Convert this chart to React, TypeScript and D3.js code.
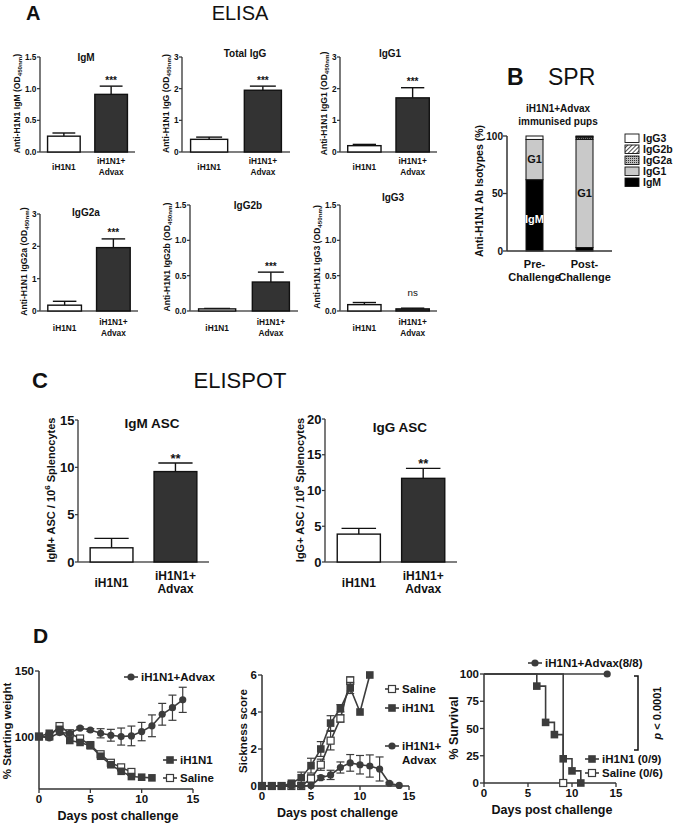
import React from 'react';
import * as d3 from 'd3';

// ---- data ----
const groups = ['iH1N1', 'iH1N1+Advax'];

// A: ELISA
const elisaTitles = ['IgM', 'Total IgG', 'IgG1', 'IgG2a', 'IgG2b', 'IgG3'];
const elisaIsotypes = ['IgM', 'IgG', 'IgG1', 'IgG2a', 'IgG2b', 'IgG3'];
const elisaMax = [1.5, 3, 3, 3, 1.5, 1.5];
const elisaTicks = [[0, 0.5, 1, 1.5], [0, 1, 2, 3], [0, 1, 2, 3], [0, 1, 2, 3], [0, 0.5, 1, 1.5], [0, 0.5, 1, 1.5]];
const elisaMean = [[0.25, 0.91], [0.4, 1.95], [0.2, 1.71], [0.18, 1.96], [0.03, 0.41], [0.09, 0.03]];
const elisaSem = [[0.05, 0.13], [0.07, 0.13], [0.04, 0.32], [0.12, 0.27], [0.006, 0.14], [0.03, 0.01]];
const elisaSig = ['***', '***', '***', '***', '***', 'ns'];

// B: SPR isotype share (%)
const isotypes = ['IgM', 'IgG1', 'IgG2a', 'IgG2b', 'IgG3'];
const sprGroups = ['Pre-Challenge', 'Post-Challenge'];
const sprPre = [62, 35, 0, 0, 3];
const sprPost = [3, 94, 1.5, 1, 0.5];

// C: ELISPOT
const ascTitles = ['IgM ASC', 'IgG ASC'];
const ascLabels = ['IgM+ ASC / 10', 'IgG+ ASC / 10'];
const ascMax = [15, 20];
const ascTicks = [[0, 5, 10, 15], [0, 5, 10, 15, 20]];
const ascMean = [[1.5, 9.55], [3.9, 11.7]];
const ascSem = [[1.0, 0.9], [0.8, 1.4]];
const ascSig = ['**', '**'];

// D: challenge
const dayTicks = [0, 5, 10, 15];
const advaxWeight = [100, 99, 103, 102.5, 106.5, 105, 102.5, 101, 100, 100.5, 103.8, 108.2, 117, 122, 128];
const advaxWeightErr = [0, 0.8, 1.5, 1, 0.8, 1, 3.5, 4.5, 6.5, 7.5, 7, 8.3, 8.3, 9.6, 9.6];
const ih1n1Weight = [100, 102.5, 105.5, 97, 95.5, 93, 85, 78.5, 73.5, 69.5, 69, 68.5];
const salineWeight = [100, 100, 108, 102.5, 98.5, 93.5, 86.5, 80, 76.5, 73];

const salineSick = [0, 0, 0, 0, 0, 0.4, 1.15, 2.45, 3.65, 5.7];
const salineSickErr = [0, 0, 0, 0, 0, 0.2, 0.3, 0.5, 0.2, 0.2];
const ih1n1Sick = [0, 0, 0, 0.15, 0.45, 1.1, 2.0, 3.4, 4.2, 5.3, 4.0, 6.0];
const ih1n1SickErr = [0, 0, 0, 0.1, 0.3, 0.4, 0.4, 0.4, 0.2, 0.3, 0, 0];
const advaxSick = [0, 0, 0, 0, 0, 0.03, 0.45, 0.6, 1.0, 1.25, 1.15, 1.08, 0.92, 0.15, 0.03];
const advaxSickErr = [0, 0, 0, 0, 0, 0, 0.1, 0.25, 0.3, 0.45, 0.5, 0.6, 0.65, 0.05, 0];

const advaxSurvDays = [0, 14];
const advaxSurv = [100, 100];
const ih1n1SurvDays = [0, 6, 7, 8, 9, 10, 11];
const ih1n1Surv = [100, 88.9, 55.6, 44.4, 22.2, 11.1, 0];
const salineSurvDays = [0, 9];
const salineSurv = [100, 0];

// ---- layout ----
const FONT = 'Liberation Sans, Arial, Helvetica, sans-serif';
const INK = '#333';
const LINE = '#3c3c3c';

const elisaBox = [
  { x0: 40, x1: 135, top: 57, base: 152, labelX: 20, titleX: 86, titleY: 61 },
  { x0: 182, x1: 290, top: 57, base: 152, labelX: 169, titleX: 245, titleY: 57 },
  { x0: 340, x1: 437, top: 57, base: 152, labelX: 327, titleX: 390, titleY: 57 },
  { x0: 40, x1: 138, top: 214, base: 311, labelX: 27, titleX: 86, titleY: 216 },
  { x0: 190, x1: 298, top: 205, base: 311, labelX: 170, titleX: 248, titleY: 209 },
  { x0: 340, x1: 437, top: 205, base: 311, labelX: 320, titleX: 393, titleY: 201 },
];
const ascBox = [
  { x0: 78, x1: 209, top: 420, base: 562, labelX: 55, titleX: 152 },
  { x0: 325, x1: 457, top: 419, base: 562, labelX: 304, titleX: 400 },
];

const fmt1 = d3.format('.1f');

function GroupLabels({ x, y, size, gap }: any) {
  return (
    <g fontFamily={FONT} fontWeight="bold" fontSize={size} textAnchor="middle" fill="#111">
      <text x={x(groups[0])! + x.bandwidth() / 2} y={y + gap / 2}>iH1N1</text>
      <text x={x(groups[1])! + x.bandwidth() / 2} y={y}>iH1N1+</text>
      <text x={x(groups[1])! + x.bandwidth() / 2} y={y + gap}>Advax</text>
    </g>
  );
}

function BarPanel({ box, max, ticks, mean, sem, sig, tickFmt, fs, inner, outer, capFrac, sigGap, xlabY, xlabGap }: any) {
  const x = d3.scaleBand<string>().domain(groups).range([box.x0, box.x1]).paddingInner(inner).paddingOuter(outer);
  const y = d3.scaleLinear().domain([0, max]).range([box.base, box.top]);
  const bw = x.bandwidth();
  return (
    <g>
      <line x1={box.x0} x2={box.x0} y1={box.base} y2={box.top} stroke={INK} strokeWidth={1.3} />
      <line x1={box.x0} x2={box.x1} y1={box.base} y2={box.base} stroke="#555" strokeWidth={1.3} />
      {ticks.map((t: number) => (
        <g key={t}>
          <line x1={box.x0 - 3} x2={box.x0} y1={y(t)} y2={y(t)} stroke={INK} strokeWidth={1.2} />
          <text x={box.x0 - 3.5} y={y(t)} dy="0.35em" textAnchor="end" fontFamily={FONT} fontWeight="bold" fontSize={fs.tick} fill="#111">
            {tickFmt(t)}
          </text>
        </g>
      ))}
      {groups.map((g, i) => {
        const cx = x(g)! + bw / 2;
        const top = y(mean[i] + sem[i]);
        return (
          <g key={g}>
            <line x1={cx} x2={cx} y1={y(mean[i])} y2={top} stroke="#111" strokeWidth={1.4} />
            <line x1={cx - bw * capFrac} x2={cx + bw * capFrac} y1={top} y2={top} stroke="#111" strokeWidth={1.4} />
            <rect x={x(g)} y={y(mean[i])} width={bw} height={box.base - y(mean[i])}
              fill={i === 0 ? '#fff' : '#333'} stroke="#111" strokeWidth={1.4} />
            {i === 1 && (
              <text x={cx} y={sig === 'ns' ? top - 12 : top - sigGap} textAnchor="middle" fontFamily={FONT}
                fontWeight={sig === 'ns' ? 'normal' : 'bold'}
                fontSize={sig === 'ns' ? fs.tick + 1.5 : fs.sig} fill="#111">{sig}</text>
            )}
          </g>
        );
      })}
      <GroupLabels x={x} y={xlabY} size={fs.xlab} gap={xlabGap} />
    </g>
  );
}

function DayAxis({ x, y0, yTicks, yScale }: any) {
  const [r0, r1] = x.range();
  const [b, t] = yScale.range();
  return (
    <g fontFamily={FONT} fontWeight="bold" fill="#111">
      <line x1={r0} x2={r0} y1={b} y2={t} stroke={INK} strokeWidth={1.5} />
      <line x1={r0} x2={r1} y1={y0} y2={y0} stroke={INK} strokeWidth={1.5} />
      {dayTicks.map((d) => (
        <g key={d}>
          <line x1={x(d)} x2={x(d)} y1={y0} y2={y0 + 4} stroke={INK} strokeWidth={1.3} />
          <text x={x(d)} y={y0 + 14} textAnchor="middle" fontSize={11.5}>{d}</text>
        </g>
      ))}
      {yTicks.map((v: number) => (
        <g key={v}>
          <line x1={r0 - 4} x2={r0} y1={yScale(v)} y2={yScale(v)} stroke={INK} strokeWidth={1.3} />
          <text x={r0 - 5} y={yScale(v)} dy="0.35em" textAnchor="end" fontSize={11.5}>{v}</text>
        </g>
      ))}
      <text x={(r0 + r1) / 2 + 2} y={y0 + 31} textAnchor="middle" fontSize={12.5}>Days post challenge</text>
    </g>
  );
}

function Marker({ kind, cx, cy }: any) {
  if (kind === 'circle') return <circle cx={cx} cy={cy} r={3.6} fill={LINE} />;
  if (kind === 'open') return <rect x={cx - 3.5} y={cy - 3.5} width={7} height={7} fill="#fff" stroke={LINE} strokeWidth={1.2} />;
  return <rect x={cx - 3.8} y={cy - 3.8} width={7.6} height={7.6} fill={LINE} />;
}

function Series({ x, y, values, errs, kind }: any) {
  const pts = values.map((v: number, i: number) => [x(i), y(v)] as [number, number]);
  const line = d3.line();
  return (
    <g>
      {errs && values.map((v: number, i: number) => errs[i] > 0 && (
        <g key={i} stroke={LINE} strokeWidth={1.2}>
          <line x1={x(i)} x2={x(i)} y1={y(v - errs[i])} y2={y(v + errs[i])} />
          <line x1={x(i) - 4} x2={x(i) + 4} y1={y(v - errs[i])} y2={y(v - errs[i])} />
          <line x1={x(i) - 4} x2={x(i) + 4} y1={y(v + errs[i])} y2={y(v + errs[i])} />
        </g>
      ))}
      <path d={line(pts)!} fill="none" stroke={LINE} strokeWidth={1.6} />
      {pts.map((p: [number, number], i: number) => <Marker key={i} kind={kind} cx={p[0]} cy={p[1]} />)}
    </g>
  );
}

function LegendItem({ x, y, kind, label, lines }: any) {
  return (
    <g>
      <line x1={x - 7} x2={x + 7} y1={y} y2={y} stroke={LINE} strokeWidth={1.6} />
      <Marker kind={kind} cx={x} cy={y} />
      <text x={x + 10} y={y + 4} fontFamily={FONT} fontWeight="bold" fontSize={11.5} fill="#111">{label}</text>
      {lines && <text x={x + 10} y={y + 18} fontFamily={FONT} fontWeight="bold" fontSize={11.5} fill="#111">{lines}</text>}
    </g>
  );
}

export default function App() {
  // B scales
  const bx = d3.scaleBand<string>().domain(sprGroups).range([507, 612]).paddingInner(0.66).paddingOuter(0.38);
  const by = d3.scaleLinear().domain([0, 100]).range([251, 136]);
  const stack = (vals: number[]) => {
    let acc = 0;
    return vals.map((v) => { const s = acc; acc += v; return [s, acc]; });
  };
  const isoFill = ['#000', '#c9c9c9', 'url(#dots)', 'url(#hatch)', '#fff'];

  // D scales
  const wx = d3.scaleLinear().domain([0, 15]).range([39, 193]);
  const wy = d3.scaleLinear().domain([60, 150]).range([789, 671]);
  const sx = d3.scaleLinear().domain([0, 15]).range([262, 409]);
  const sy = d3.scaleLinear().domain([0, 6]).range([786, 675]);
  const vx = d3.scaleLinear().domain([0, 15]).range([484, 616]);
  const vy = d3.scaleLinear().domain([0, 100]).range([783, 674]);
  const step = d3.line().curve(d3.curveStepAfter);

  return (
    <svg width={678} height={823} style={{ position: 'absolute', left: 0, top: 0, background: '#fff' }}>
      <defs>
        <pattern id="hatch" width={3} height={3} patternUnits="userSpaceOnUse" patternTransform="rotate(45)">
          <rect width={3} height={3} fill="#fff" />
          <line x1={0} y1={0} x2={0} y2={3} stroke="#000" strokeWidth={1.4} />
        </pattern>
        <pattern id="dots" width={2} height={2} patternUnits="userSpaceOnUse">
          <rect width={2} height={2} fill="#bbb" />
          <rect width={1} height={1} fill="#333" />
        </pattern>
      </defs>

      {/* headings */}
      <g fontFamily={FONT} fill="#111">
        <text x={26} y={20} fontSize={20} fontWeight="bold">A</text>
        <text x={240} y={20} fontSize={20} textAnchor="middle">ELISA</text>
        <text x={507} y={85} fontSize={23} fontWeight="bold">B</text>
        <text x={548} y={85} fontSize={23}>SPR</text>
        <text x={32} y={388} fontSize={22} fontWeight="bold">C</text>
        <text x={240} y={388} fontSize={22} textAnchor="middle">ELISPOT</text>
        <text x={33} y={643} fontSize={21} fontWeight="bold">D</text>
      </g>

      {/* A: ELISA */}
      {elisaTitles.map((t, k) => {
        const box = elisaBox[k];
        const tf = elisaMax[k] === 1.5 ? fmt1 : (v: number) => String(v);
        const row = k < 3 ? 0 : 1;
        return (
          <g key={t}>
            <BarPanel box={box} max={elisaMax[k]} ticks={elisaTicks[k]} mean={elisaMean[k]} sem={elisaSem[k]} sig={elisaSig[k]}
              tickFmt={tf} fs={{ tick: 8.3, sig: 10, xlab: 8.3 }} inner={0.31} outer={0.16} capFrac={0.35} sigGap={2.5}
              xlabY={row === 0 ? 164 : 325} xlabGap={11} />
            <text x={box.titleX} y={box.titleY} textAnchor="middle" fontFamily={FONT} fontWeight="bold" fontSize={10} fill="#111">{t}</text>
            <text transform={`translate(${box.labelX},${(box.top + box.base) / 2 - 1}) rotate(-90)`} textAnchor="middle"
              fontFamily={FONT} fontWeight="bold" fontSize={8.6} fill="#111">
              {`Anti-H1N1 ${elisaIsotypes[k]} (OD`}
              <tspan fontSize={6.2} dy={2}>450nm</tspan>
              <tspan dy={-2}>)</tspan>
            </text>
          </g>
        );
      })}

      {/* B: SPR */}
      <g fontFamily={FONT} fontWeight="bold" fill="#111">
        <text x={558} y={112} fontSize={10} textAnchor="middle">iH1N1+Advax</text>
        <text x={558} y={125} fontSize={10} textAnchor="middle">immunised pups</text>
        <text transform={`translate(483,191) rotate(-90)`} textAnchor="middle" fontSize={10.5}>Anti-H1N1 Ab Isotypes (%)</text>
        {[sprPre, sprPost].map((vals, gi) => stack(vals).map(([a, b], ii) => b - a > 0 && (
          <rect key={`${gi}-${ii}`} x={bx(sprGroups[gi])} y={by(b)} width={bx.bandwidth()} height={by(a) - by(b)}
            fill={isoFill[ii]} stroke="#111" strokeWidth={1} />
        )))}
        <line x1={507} x2={507} y1={251} y2={136} stroke={INK} strokeWidth={1.5} />
        <line x1={507} x2={612} y1={251} y2={251} stroke={INK} strokeWidth={1.5} />
        {[0, 50, 100].map((v) => (
          <g key={v}>
            <line x1={503} x2={507} y1={by(v)} y2={by(v)} stroke={INK} strokeWidth={1.3} />
            <text x={503} y={by(v)} dy="0.35em" textAnchor="end" fontSize={10}>{v}</text>
          </g>
        ))}
        <text x={bx(sprGroups[0])! + bx.bandwidth() / 2} y={by((sprPre[0] + 97) / 2)} dy="0.35em" textAnchor="middle" fontSize={11}>G1</text>
        <text x={bx(sprGroups[0])! + bx.bandwidth() / 2} y={by(sprPre[0] / 2 - 3)} dy="0.35em" textAnchor="middle" fontSize={11} fill="#fff">IgM</text>
        <text x={bx(sprGroups[1])! + bx.bandwidth() / 2} y={by(50)} dy="0.35em" textAnchor="middle" fontSize={11}>G1</text>
        {sprGroups.map((g) => {
          const [l1, l2] = g.split('-');
          const cx = bx(g)! + bx.bandwidth() / 2;
          return (
            <g key={g}>
              <text x={cx} y={268} textAnchor="middle" fontSize={11}>{l1 + '-'}</text>
              <text x={cx} y={281} textAnchor="middle" fontSize={11}>{l2}</text>
            </g>
          );
        })}
        {isotypes.slice().reverse().map((iso, r) => (
          <g key={iso}>
            <rect x={625} y={134 + r * 11} width={14} height={8.5} fill={isoFill[isotypes.length - 1 - r]} stroke="#111" strokeWidth={0.9} />
            <text x={643} y={142 + r * 11} fontSize={10.5}>{iso}</text>
          </g>
        ))}
      </g>

      {/* C: ELISPOT */}
      {ascTitles.map((t, k) => {
        const box = ascBox[k];
        return (
          <g key={t}>
            <BarPanel box={box} max={ascMax[k]} ticks={ascTicks[k]} mean={ascMean[k]} sem={ascSem[k]} sig={ascSig[k]}
              tickFmt={(v: number) => String(v)} fs={{ tick: 13, sig: 13, xlab: 12 }} inner={0.33} outer={0.19} capFrac={0.4}
              sigGap={0} xlabY={580} xlabGap={13} />
            <text x={box.titleX} y={k === 0 ? 428 : 432} textAnchor="middle" fontFamily={FONT} fontWeight="bold" fontSize={13.5} fill="#111">{t}</text>
            <text transform={`translate(${box.labelX},${490}) rotate(-90)`} textAnchor="middle" fontFamily={FONT} fontWeight="bold" fontSize={11} fill="#111">
              {ascLabels[k]}
              <tspan fontSize={8} dy={-5}>6</tspan>
              <tspan dy={5}> Splenocytes</tspan>
            </text>
          </g>
        );
      })}

      {/* D: weight */}
      <DayAxis x={wx} y0={789} yTicks={[100, 150]} yScale={wy} />
      <text transform="translate(11,731) rotate(-90)" textAnchor="middle" fontFamily={FONT} fontWeight="bold" fontSize={11.5} fill="#111">% Starting weight</text>
      <Series x={wx} y={wy} values={salineWeight} kind="open" />
      <Series x={wx} y={wy} values={ih1n1Weight} kind="filled" />
      <Series x={wx} y={wy} values={advaxWeight} errs={advaxWeightErr} kind="circle" />
      <LegendItem x={131} y={677} kind="circle" label={groups[1]} />
      <LegendItem x={170} y={760} kind="filled" label={groups[0]} />
      <LegendItem x={170} y={778} kind="open" label="Saline" />

      {/* D: sickness */}
      <DayAxis x={sx} y0={786} yTicks={[0, 2, 4, 6]} yScale={sy} />
      <text transform="translate(247,731) rotate(-90)" textAnchor="middle" fontFamily={FONT} fontWeight="bold" fontSize={11.5} fill="#111">Sickness score</text>
      <Series x={sx} y={sy} values={salineSick} errs={salineSickErr} kind="open" />
      <Series x={sx} y={sy} values={ih1n1Sick} errs={ih1n1SickErr} kind="filled" />
      <Series x={sx} y={sy} values={advaxSick} errs={advaxSickErr} kind="circle" />
      <LegendItem x={392} y={689} kind="open" label="Saline" />
      <LegendItem x={392} y={708} kind="filled" label={groups[0]} />
      <LegendItem x={392} y={746} kind="circle" label="iH1N1+" lines="Advax" />

      {/* D: survival */}
      <DayAxis x={vx} y0={783} yTicks={[0, 25, 50, 75, 100]} yScale={vy} />
      <text transform="translate(458,728) rotate(-90)" textAnchor="middle" fontFamily={FONT} fontWeight="bold" fontSize={12.5} fill="#111">% Survival</text>
      <path d={step(advaxSurvDays.map((d, i) => [vx(d), vy(advaxSurv[i])] as [number, number]))!} fill="none" stroke={LINE} strokeWidth={1.6} />
      <path d={step(ih1n1SurvDays.map((d, i) => [vx(d), vy(ih1n1Surv[i])] as [number, number]))!} fill="none" stroke={LINE} strokeWidth={1.6} />
      <path d={step(salineSurvDays.map((d, i) => [vx(d), vy(salineSurv[i])] as [number, number]))!} fill="none" stroke={LINE} strokeWidth={1.6} />
      {ih1n1SurvDays.slice(1).map((d, i) => <Marker key={d} kind="filled" cx={vx(d)} cy={vy(ih1n1Surv[i + 1])} />)}
      <Marker kind="open" cx={vx(salineSurvDays[1])} cy={vy(salineSurv[1])} />
      <Marker kind="circle" cx={vx(advaxSurvDays[1])} cy={vy(advaxSurv[1])} />
      <LegendItem x={535} y={663} kind="circle" label="iH1N1+Advax(8/8)" />
      <LegendItem x={592} y={759} kind="filled" label="iH1N1 (0/9)" />
      <LegendItem x={592} y={773} kind="open" label="Saline (0/6)" />
      <path d="M634,676 H638 V750 H634" fill="none" stroke="#111" strokeWidth={1.5} />
      <text transform="translate(661,713) rotate(-90)" textAnchor="middle" fontFamily={FONT} fontWeight="bold" fontSize={11} fill="#111">
        <tspan fontStyle="italic">p</tspan> {'< 0.0001'}
      </text>
    </svg>
  );
}
